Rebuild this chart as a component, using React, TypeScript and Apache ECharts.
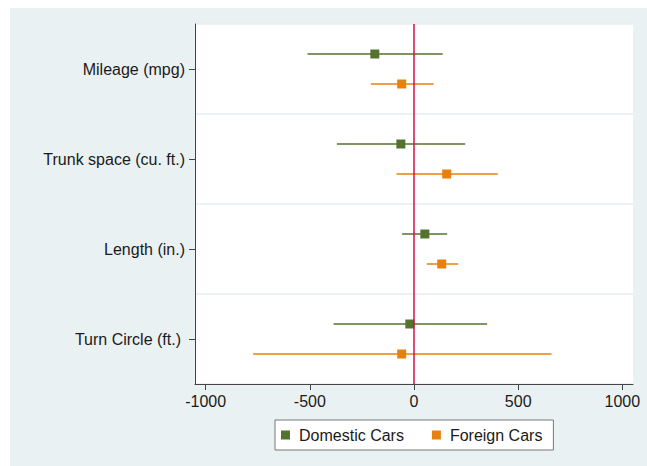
import React, { useEffect, useRef } from "react";
import * as echarts from "echarts";

const categories = ["Mileage (mpg)", "Trunk space (cu. ft.)", "Length (in.)", "Turn Circle (ft.)"];
const seriesNames = ["Domestic Cars", "Foreign Cars"];
// [low, high, point] per category
const domesticLow = [-511, -370, -57, -386];
const domesticHigh = [138, 246, 159, 351];
const domesticPoint = [-188, -63, 52, -20];
const foreignLow = [-207, -84, 61, -772];
const foreignHigh = [94, 402, 212, 660];
const foreignPoint = [-59, 157, 133, -59];
const xTicks = [-1000, -500, 0, 500, 1000];

const GREEN = "#55732e";
const ORANGE = "#e8800c";
const BG = "#eaf1f3";
const FONT = "'Liberation Sans', Arial, Helvetica, sans-serif";

function makeSeries(name: string, color: string, lows: number[], highs: number[], points: number[], side: number) {
  const data = categories.map((_, i) => [lows[i], highs[i], points[i], i]);
  return {
    type: "custom",
    name,
    encode: { x: [0, 1, 2], y: 3 },
    itemStyle: { color },
    data,
    z: 3,
    renderItem: (params: any, api: any) => {
      const cat = api.value(3);
      const band = api.size([0, 1])[1];
      const off = (side * band) / 6;
      const lo = api.coord([api.value(0), cat]);
      const hi = api.coord([api.value(1), cat]);
      const pt = api.coord([api.value(2), cat]);
      const y = lo[1] + off;
      const s = 9;
      return {
        type: "group",
        children: [
          {
            type: "line",
            shape: { x1: lo[0], y1: y, x2: hi[0], y2: y },
            style: { stroke: color, lineWidth: 1.5 },
          },
          {
            type: "rect",
            shape: { x: pt[0] - s / 2, y: y - s / 2, width: s, height: s },
            style: { fill: color },
          },
        ],
      };
    },
  };
}

export default function App() {
  const ref = useRef<HTMLDivElement>(null);
  useEffect(() => {
    if (!ref.current) return;
    const chart = echarts.init(ref.current, null, { renderer: "svg" });
    const zeroSeries: any = {
      type: "custom",
      name: "zero",
      data: [],
      renderItem: () => null,
      markLine: {
        silent: true,
        symbol: "none",
        label: { show: false },
        lineStyle: { color: "#d4104a", width: 1.5, type: "solid" },
        data: [{ xAxis: 0 }],
      },
      z: 2,
    };
    chart.setOption({
      animation: false,
      backgroundColor: BG,
      textStyle: { fontFamily: FONT },
      grid: {
        left: 185,
        top: 16,
        right: 14,
        bottom: 82,
        show: true,
        backgroundColor: "#ffffff",
        borderWidth: 0,
      },
      legend: {
        data: seriesNames.map((n, i) => ({ name: n, itemStyle: { color: i === 0 ? GREEN : ORANGE } })),
        left: 265,
        top: 412,
        orient: "horizontal",
        icon: "rect",
        itemWidth: 9,
        itemHeight: 9,
        itemGap: 28,
        padding: [7, 11, 7, 6],
        backgroundColor: "#ffffff",
        borderColor: "#777777",
        borderWidth: 1,
        borderRadius: 0,
        selectedMode: false,
        textStyle: { fontSize: 16, color: "#1a1a1a", fontFamily: FONT, padding: [0, 0, 0, 4] },
      },
      xAxis: {
        type: "value",
        min: -1051,
        max: 1051,
        axisLine: { show: true, onZero: false, lineStyle: { color: "#444444", width: 1 } },
        axisTick: { show: true, length: 6, customValues: xTicks, lineStyle: { color: "#444444" } },
        axisLabel: {
          customValues: xTicks,
          fontSize: 16,
          color: "#1a1a1a",
          margin: 9,
          fontFamily: FONT,
          formatter: (v: number) => String(v),
        },
        splitLine: { show: false },
      },
      yAxis: {
        type: "category",
        inverse: true,
        data: categories.map((c, i) =>
          i === categories.length - 1 ? { value: c, textStyle: { padding: [0, 4, 0, 0] } } : c
        ),
        axisLine: { show: true, onZero: false, lineStyle: { color: "#444444", width: 1 } },
        axisTick: { show: true, alignWithLabel: true, length: 6, lineStyle: { color: "#444444" } },
        axisLabel: { fontSize: 16, color: "#1a1a1a", margin: 10, fontFamily: FONT },
        splitLine: { show: true, lineStyle: { color: "#e6eef2", width: 1.5 } },
      },
      series: [
        makeSeries(seriesNames[0], GREEN, domesticLow, domesticHigh, domesticPoint, -1),
        makeSeries(seriesNames[1], ORANGE, foreignLow, foreignHigh, foreignPoint, 1),
        zeroSeries,
      ],
    });
    return () => chart.dispose();
  }, []);
  return (
    <div
      ref={ref}
      style={{ position: "absolute", left: 10, top: 8, width: 637, height: 458 }}
    />
  );
}
